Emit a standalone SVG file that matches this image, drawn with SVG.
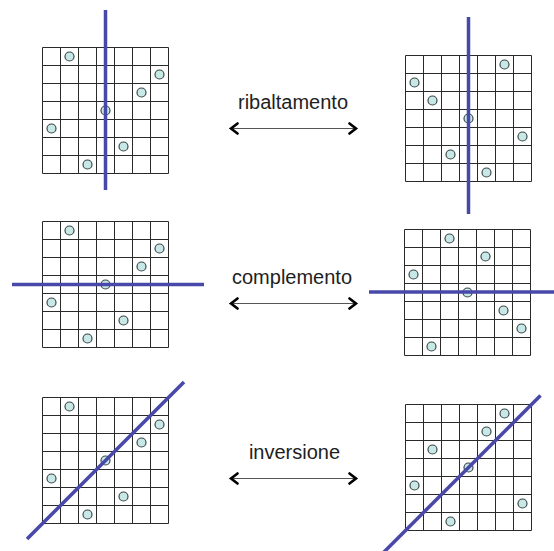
<svg xmlns="http://www.w3.org/2000/svg" xmlns:xlink="http://www.w3.org/1999/xlink" width="554" height="551" viewBox="0 0 554 551">
<style>
.grid{fill:#fff;stroke:#2a2a2a;stroke-width:1}
.dot{fill:#c8e8e8;stroke:#3c4848;stroke-width:1.2}
.axis{stroke:#4848aa;stroke-width:3.5;stroke-linecap:butt;fill:none}
.lbl{font-family:"Liberation Sans",Arial,sans-serif;font-size:20px;fill:#1e1e1e;text-anchor:middle}
.shaft{stroke:#555;stroke-width:1.2;fill:none}
.head{stroke:#000;stroke-width:2.6;fill:none;stroke-linecap:round;stroke-linejoin:miter}
</style>
<defs>
<path id="grid" class="grid" d="M0 0H126V126H0Z M18 0V126 M36 0V126 M54 0V126 M72 0V126 M90 0V126 M108 0V126 M0 18H126 M0 36H126 M0 54H126 M0 72H126 M0 90H126 M0 108H126"/>
</defs>
<rect width="554" height="551" fill="#fff"/>

<g id="panel-original-1">
<use xlink:href="#grid" href="#grid" x="42.5" y="47.5"/>
<circle class="dot" cx="69.5" cy="56.5" r="4.5"/>
<circle class="dot" cx="159.5" cy="74.5" r="4.5"/>
<circle class="dot" cx="141.5" cy="92.5" r="4.5"/>
<circle class="dot" cx="105.5" cy="110.5" r="4.5"/>
<circle class="dot" cx="51.5" cy="128.5" r="4.5"/>
<circle class="dot" cx="123.5" cy="146.5" r="4.5"/>
<circle class="dot" cx="87.5" cy="164.5" r="4.5"/>
<line class="axis" x1="105.5" y1="10" x2="105.5" y2="190"/>
</g>

<g id="panel-ribaltamento">
<use xlink:href="#grid" href="#grid" x="405.5" y="55.5"/>
<circle class="dot" cx="504.5" cy="64.5" r="4.5"/>
<circle class="dot" cx="414.5" cy="82.5" r="4.5"/>
<circle class="dot" cx="432.5" cy="100.5" r="4.5"/>
<circle class="dot" cx="468.5" cy="118.5" r="4.5"/>
<circle class="dot" cx="522.5" cy="136.5" r="4.5"/>
<circle class="dot" cx="450.5" cy="154.5" r="4.5"/>
<circle class="dot" cx="486.5" cy="172.5" r="4.5"/>
<line class="axis" x1="468.5" y1="17" x2="468.5" y2="214"/>
</g>

<g id="panel-original-2">
<use xlink:href="#grid" href="#grid" x="42.5" y="221.5"/>
<circle class="dot" cx="69.5" cy="230.5" r="4.5"/>
<circle class="dot" cx="159.5" cy="248.5" r="4.5"/>
<circle class="dot" cx="141.5" cy="266.5" r="4.5"/>
<circle class="dot" cx="105.5" cy="284.5" r="4.5"/>
<circle class="dot" cx="51.5" cy="302.5" r="4.5"/>
<circle class="dot" cx="123.5" cy="320.5" r="4.5"/>
<circle class="dot" cx="87.5" cy="338.5" r="4.5"/>
<line class="axis" x1="12" y1="284.5" x2="204" y2="284.5"/>
</g>

<g id="panel-complemento">
<use xlink:href="#grid" href="#grid" x="404.5" y="229.5"/>
<circle class="dot" cx="449.5" cy="238.5" r="4.5"/>
<circle class="dot" cx="485.5" cy="256.5" r="4.5"/>
<circle class="dot" cx="413.5" cy="274.5" r="4.5"/>
<circle class="dot" cx="467.5" cy="292.5" r="4.5"/>
<circle class="dot" cx="503.5" cy="310.5" r="4.5"/>
<circle class="dot" cx="521.5" cy="328.5" r="4.5"/>
<circle class="dot" cx="431.5" cy="346.5" r="4.5"/>
<line class="axis" x1="369" y1="292" x2="554" y2="292"/>
</g>

<g id="panel-original-3">
<use xlink:href="#grid" href="#grid" x="42.5" y="397.5"/>
<circle class="dot" cx="69.5" cy="406.5" r="4.5"/>
<circle class="dot" cx="159.5" cy="424.5" r="4.5"/>
<circle class="dot" cx="141.5" cy="442.5" r="4.5"/>
<circle class="dot" cx="105.5" cy="460.5" r="4.5"/>
<circle class="dot" cx="51.5" cy="478.5" r="4.5"/>
<circle class="dot" cx="123.5" cy="496.5" r="4.5"/>
<circle class="dot" cx="87.5" cy="514.5" r="4.5"/>
<line class="axis" x1="27" y1="539" x2="184" y2="382"/>
</g>

<g id="panel-inversione">
<use xlink:href="#grid" href="#grid" x="405.5" y="404.5"/>
<circle class="dot" cx="504.5" cy="413.5" r="4.5"/>
<circle class="dot" cx="486.5" cy="431.5" r="4.5"/>
<circle class="dot" cx="432.5" cy="449.5" r="4.5"/>
<circle class="dot" cx="468.5" cy="467.5" r="4.5"/>
<circle class="dot" cx="414.5" cy="485.5" r="4.5"/>
<circle class="dot" cx="522.5" cy="503.5" r="4.5"/>
<circle class="dot" cx="450.5" cy="521.5" r="4.5"/>
<line class="axis" x1="383" y1="553" x2="540.5" y2="395.5"/>
</g>

<g id="labels">
<text class="lbl" x="293" y="108.5">ribaltamento</text>
<text class="lbl" x="292" y="284">complemento</text>
<text class="lbl" x="294.5" y="459">inversione</text>
</g>

<g id="connectors">
<line class="shaft" x1="231" y1="128.5" x2="356" y2="128.5"/>
<path class="head" d="M237.5 123.5L231 128.5L237.5 133.5 M349.5 123.5L356 128.5L349.5 133.5"/>
<line class="shaft" x1="231" y1="303.5" x2="356" y2="303.5"/>
<path class="head" d="M237.5 298.5L231 303.5L237.5 308.5 M349.5 298.5L356 303.5L349.5 308.5"/>
<line class="shaft" x1="231" y1="478.5" x2="356" y2="478.5"/>
<path class="head" d="M237.5 473.5L231 478.5L237.5 483.5 M349.5 473.5L356 478.5L349.5 483.5"/>
</g>
</svg>
